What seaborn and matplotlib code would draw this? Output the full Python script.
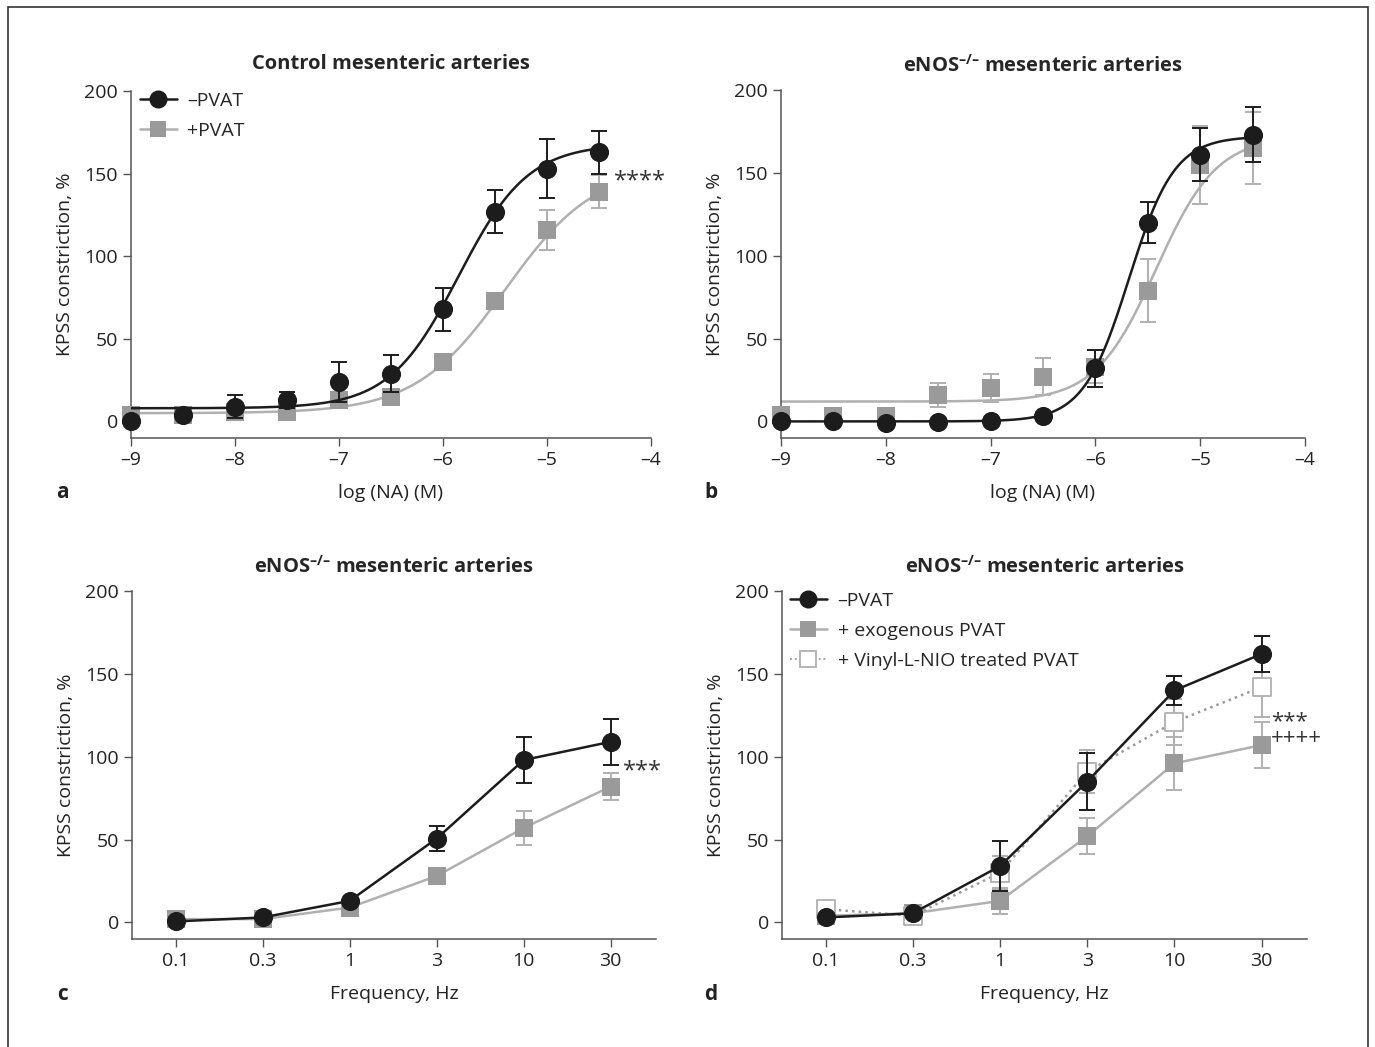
import numpy as np
import pandas as pd
import matplotlib
matplotlib.use("Agg")
import matplotlib.pyplot as plt
from matplotlib.lines import Line2D
from matplotlib.patches import Rectangle
import seaborn as sns

# ---------------- data ----------------
log_na = [-9, -8.5, -8, -7.5, -7, -6.5, -6, -5.5, -5, -4.5]

a_minus_mean = [0, 4, 9, 13, 24, 29, 68, 127, 153, 163]
a_minus_sem = [0, 0, 7, 5, 12, 11, 13, 13, 18, 13]
a_plus_mean = [4, 4, 6, 6, 13, 15, 36, 73, 116, 139]
a_plus_sem = [0, 0, 2, 1, 2, 2, 2, 5, 12, 10]
# sigmoid fit parameters (bottom, top, logEC50, hill)
a_minus_fit = (8, 168, -5.85, 1.3)
a_plus_fit = (5, 155, -5.4, 1.0)

b_minus_mean = [0, 0.5, -1, -0.5, 0, 3, 32, 120, 161, 173]
b_minus_sem = [0, 0, 0, 0, 0, 0, 11, 12.5, 16, 16.5]
b_plus_mean = [4, 3.5, 3, 16, 20, 27, 33, 79, 155, 165]
b_plus_sem = [0, 0, 0, 7, 8.5, 11, 10, 19, 23.5, 22]
b_minus_fit = (0, 172, -5.68, 2.0)
b_plus_fit = (12, 172, -5.42, 1.5)

freq_labels = ["0.1", "0.3", "1", "3", "10", "30"]

c_minus_mean = [0.6, 3, 13, 50.6, 98, 109]
c_minus_sem = [0, 0, 0, 7.5, 14, 14]
c_plus_mean = [2, 2, 9, 28, 57, 82]
c_plus_sem = [0, 0, 0, 0, 10.5, 8]

d_minus_mean = [3, 5.5, 34, 85, 140, 162]
d_minus_sem = [0, 0, 15, 17, 9, 11]
d_plus_mean = [4, 5.5, 13, 52, 96, 107]
d_plus_sem = [0, 0, 8, 11, 16, 14]
d_vinyl_mean = [8, 4, 30, 91, 121, 142]
d_vinyl_sem = [0, 0, 10, 13, 14, 18]

y_ticks = [0, 50, 100, 150, 200]
logx_ticks = [-9, -8, -7, -6, -5, -4]
logx_labels = ["\u20139", "\u20138", "\u20137", "\u20136", "\u20135", "\u20134"]

ENOS_TITLE = "eNOS$^{\\mathbf{\u2013/\u2013}}$ mesenteric arteries"

# ---------------- style ----------------
sns.set_theme(style="ticks")
plt.rcParams["font.family"] = ["Open Sans", "DejaVu Sans"]
plt.rcParams["mathtext.fontset"] = "custom"
plt.rcParams["mathtext.rm"] = "Open Sans"
plt.rcParams["mathtext.bf"] = "Open Sans:bold"
plt.rcParams["axes.unicode_minus"] = False

BLACK = "#1c1c1c"
GRAY = "#9a9a9a"
LGRAY = "#b0b0b0"
SPINE = "#555555"
TXT = "#222222"
FS_TICK = 14
FS_LAB = 14
FS_LEG = 14
FS_TITLE = 14.5

fig = plt.figure(figsize=(13.75, 10.47), dpi=100)
W, H = 1375, 1047


def axes_px(left, right, top, bottom):
    return fig.add_axes([left / W, 1 - bottom / H, (right - left) / W, (bottom - top) / H])


ax_a = axes_px(131, 651, 91, 438)
ax_b = axes_px(781, 1305, 90, 438)
ax_c = axes_px(132, 656, 591, 939)
ax_d = axes_px(782, 1307, 591, 939)


def style_ax(ax):
    sns.despine(ax=ax)
    for s in ["left", "bottom"]:
        ax.spines[s].set_color(SPINE)
        ax.spines[s].set_linewidth(1.1)
    ax.tick_params(axis="both", colors=SPINE, labelcolor=TXT, labelsize=FS_TICK,
                   length=6, width=1.0, direction="out")
    ax.set_ylim(-10, 200)
    ax.set_yticks(y_ticks)
    ax.set_ylabel("KPSS constriction, %", fontsize=FS_LAB, color=TXT, labelpad=7)


def sigmoid(x, p):
    bottom, top, ec50, hill = p
    return bottom + (top - bottom) / (1 + 10 ** ((ec50 - x) * hill))


def draw_log_panel(ax, mm, ms, pm, ps, mfit, pfit):
    xs = np.linspace(-9, -4.5, 300)
    sns.lineplot(x=xs, y=sigmoid(xs, pfit), ax=ax, color=LGRAY, lw=1.8, zorder=2)
    sns.lineplot(x=xs, y=sigmoid(xs, mfit), ax=ax, color=BLACK, lw=1.8, zorder=4)
    ax.errorbar(log_na, pm, yerr=ps, fmt="none", ecolor=LGRAY, elinewidth=1.4,
                capsize=6, capthick=1.4, zorder=2.5, clip_on=False)
    ax.errorbar(log_na, mm, yerr=ms, fmt="none", ecolor=BLACK, elinewidth=1.4,
                capsize=6, capthick=1.4, zorder=4.5, clip_on=False)
    sns.scatterplot(x=log_na, y=pm, ax=ax, marker="s", s=150, color=GRAY,
                    edgecolor=GRAY, linewidth=0, zorder=3, clip_on=False)
    sns.scatterplot(x=log_na, y=mm, ax=ax, marker="o", s=190, color=BLACK,
                    edgecolor=BLACK, linewidth=0, zorder=5, clip_on=False)
    ax.set_xlim(-9, -4)
    ax.set_xticks(logx_ticks)
    ax.set_xticklabels(logx_labels)
    ax.set_xlabel("log (NA) (M)", fontsize=FS_LAB, color=TXT, labelpad=11)


def draw_freq_series(ax, mean, sem, color, ecolor, marker, s, face, ls, z):
    xpos = list(range(len(freq_labels)))
    sns.lineplot(x=xpos, y=mean, ax=ax, color=color, lw=1.8, linestyle=ls, zorder=z)
    ax.errorbar(xpos, mean, yerr=sem, fmt="none", ecolor=ecolor, elinewidth=1.4,
                capsize=6, capthick=1.4, zorder=z + 0.5, clip_on=False)
    sns.scatterplot(x=xpos, y=mean, ax=ax, marker=marker, s=s, color=face,
                    edgecolor=ecolor, linewidth=0 if face != "white" else 1.3,
                    zorder=z + 1, clip_on=False)


def freq_axis(ax):
    ax.set_xlim(-0.5, 5.52)
    ax.set_xticks(range(len(freq_labels)))
    ax.set_xticklabels(freq_labels)
    ax.set_xlabel("Frequency, Hz", fontsize=FS_LAB, color=TXT, labelpad=11)


for ax in [ax_a, ax_b, ax_c, ax_d]:
    style_ax(ax)

leg_kw = dict(loc="upper left", frameon=False, fontsize=FS_LEG, handlelength=1.9,
              handletextpad=0.55, labelspacing=0.62, borderaxespad=0.0, borderpad=0.0)

# panel a
draw_log_panel(ax_a, a_minus_mean, a_minus_sem, a_plus_mean, a_plus_sem, a_minus_fit, a_plus_fit)
ax_a.set_title("Control mesenteric arteries", fontsize=FS_TITLE, fontweight="bold", pad=16)
ax_a.text(-4.36, 145, "****", fontsize=17, va="center", ha="left", color="#333333")
leg_a = [Line2D([], [], color=BLACK, lw=1.8, marker="o", markersize=13, markeredgewidth=0),
         Line2D([], [], color=LGRAY, lw=1.8, marker="s", markersize=11, markerfacecolor=GRAY,
                markeredgewidth=0)]
ax_a.legend(leg_a, ["\u2013PVAT", "+PVAT"], bbox_to_anchor=(0.017, 0.997), **leg_kw)

# panel b
draw_log_panel(ax_b, b_minus_mean, b_minus_sem, b_plus_mean, b_plus_sem, b_minus_fit, b_plus_fit)
ax_b.set_title(ENOS_TITLE, fontsize=FS_TITLE, fontweight="bold", pad=13)

# panel c
draw_freq_series(ax_c, c_plus_mean, c_plus_sem, LGRAY, LGRAY, "s", 150, GRAY, "-", 2)
draw_freq_series(ax_c, c_minus_mean, c_minus_sem, BLACK, BLACK, "o", 190, BLACK, "-", 4)
freq_axis(ax_c)
ax_c.set_title(ENOS_TITLE, fontsize=FS_TITLE, fontweight="bold", pad=13)
ax_c.text(5.14, 91, "***", fontsize=17, va="center", ha="left", color="#333333")

# panel d
draw_freq_series(ax_d, d_plus_mean, d_plus_sem, LGRAY, LGRAY, "s", 150, GRAY, "-", 2)
draw_freq_series(ax_d, d_vinyl_mean, d_vinyl_sem, GRAY, LGRAY, "s", 150, "white", ":", 3)
draw_freq_series(ax_d, d_minus_mean, d_minus_sem, BLACK, BLACK, "o", 190, BLACK, "-", 5)
freq_axis(ax_d)
ax_d.set_title(ENOS_TITLE, fontsize=FS_TITLE, fontweight="bold", pad=13)
ax_d.text(5.11, 116, "***\n++++", fontsize=16, va="center", ha="left", color="#333333",
          linespacing=0.72)
leg_d = [Line2D([], [], color=BLACK, lw=1.8, marker="o", markersize=13, markeredgewidth=0),
         Line2D([], [], color=LGRAY, lw=1.8, marker="s", markersize=11, markerfacecolor=GRAY,
                markeredgewidth=0),
         Line2D([], [], color=GRAY, lw=1.3, ls=":", marker="s", markersize=11,
                markerfacecolor="white", markeredgecolor=LGRAY, markeredgewidth=1.3)]
ax_d.legend(leg_d, ["\u2013PVAT", "+ exogenous PVAT", "+ Vinyl-L-NIO treated PVAT"],
            bbox_to_anchor=(0.015, 0.997), **leg_kw)

# panel letters
for (px, py, lab) in [(62, 493, "a"), (711, 493, "b"), (62, 995, "c"), (711, 995, "d")]:
    fig.text(px / W, 1 - py / H, lab, fontsize=15, fontweight="bold", ha="center",
             va="center", color=TXT)

# figure frame
fig.patches.append(Rectangle((8 / W, -0.01), (1368 - 8) / W, 1 - 7 / H + 0.01,
                             transform=fig.transFigure, fill=False, edgecolor="#333333",
                             linewidth=1.2))

fig.savefig("out.png", dpi=100)
